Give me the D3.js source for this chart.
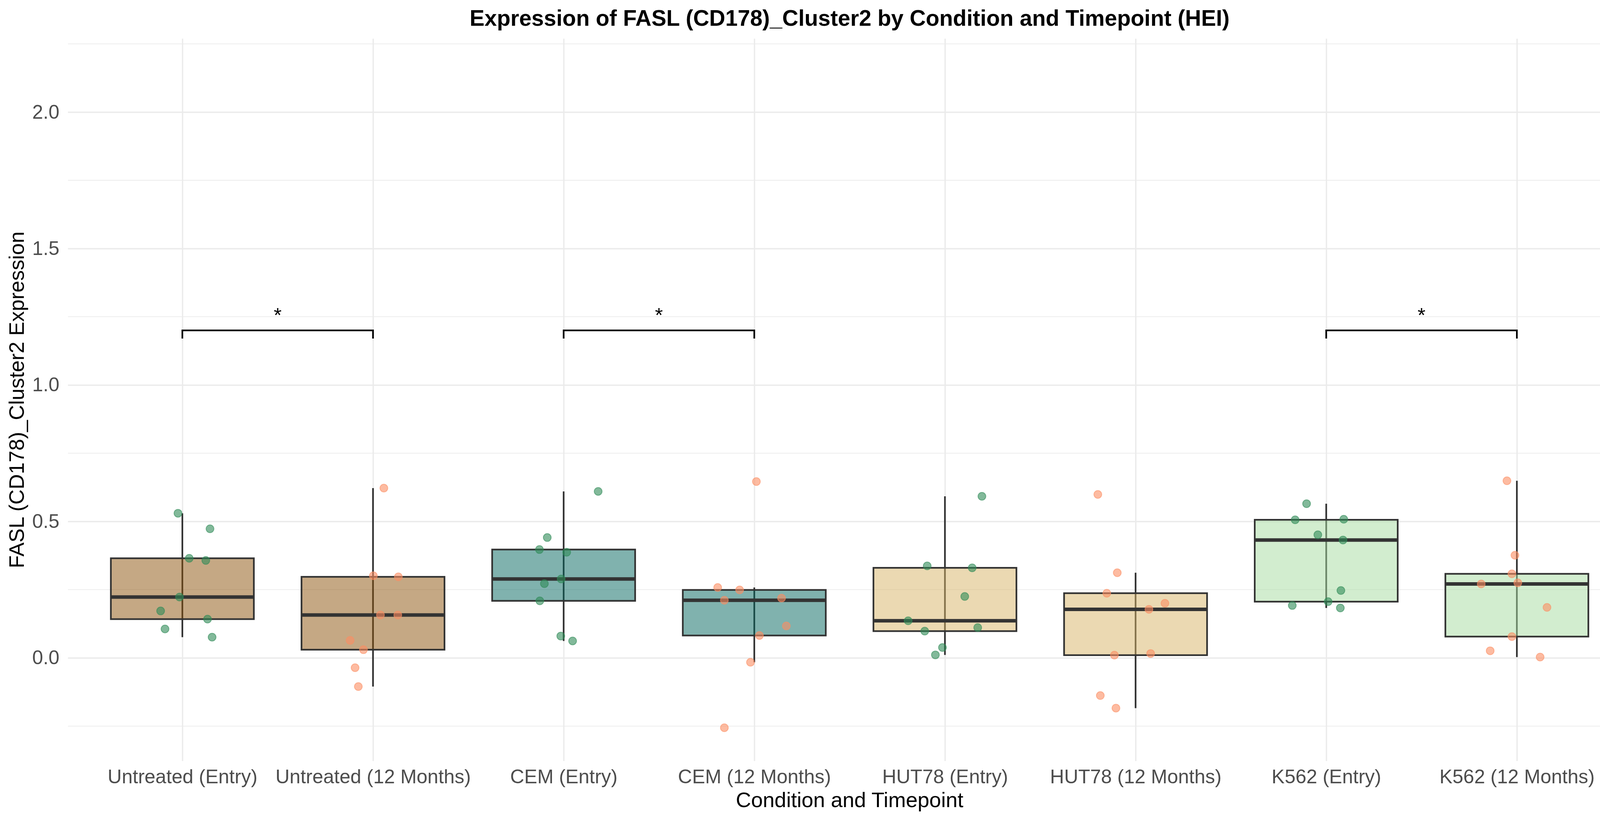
<!DOCTYPE html>
<html>
<head>
<meta charset="utf-8">
<script src="https://cdn.jsdelivr.net/npm/d3@7"></script>
<style>
body { margin: 0; background: #fff; }
</style>
</head>
<body>
<script>
// categories and groups
var categories = ["Untreated (Entry)", "Untreated (12 Months)", "CEM (Entry)", "CEM (12 Months)",
  "HUT78 (Entry)", "HUT78 (12 Months)", "K562 (Entry)", "K562 (12 Months)"];
var conditions = ["Untreated", "Untreated", "CEM", "CEM", "HUT78", "HUT78", "K562", "K562"];
var timepoints = ["Entry", "12 Months", "Entry", "12 Months", "Entry", "12 Months", "Entry", "12 Months"];

// expression values per group
var untreatedEntry = [0.530, 0.473, 0.365, 0.357, 0.223, 0.172, 0.142, 0.106, 0.076];
var untreated12 = [0.622, 0.301, 0.297, 0.157, 0.157, 0.064, 0.030, -0.036, -0.105];
var cemEntry = [0.610, 0.441, 0.397, 0.387, 0.289, 0.272, 0.209, 0.080, 0.062];
var cem12 = [0.646, 0.258, 0.249, 0.211, 0.219, 0.117, 0.082, -0.016, -0.256];
var hutEntry = [0.592, 0.337, 0.330, 0.225, 0.136, 0.098, 0.111, 0.038, 0.011];
var hut12 = [0.599, 0.312, 0.237, 0.200, 0.178, 0.010, 0.016, -0.138, -0.184];
var k562Entry = [0.565, 0.506, 0.508, 0.451, 0.432, 0.247, 0.206, 0.192, 0.183];
var k56212 = [0.649, 0.376, 0.308, 0.271, 0.275, 0.185, 0.078, 0.026, 0.003];

// horizontal jitter of each point, in category units
var untreatedEntryJit = [-0.023, 0.145, 0.036, 0.123, -0.015, -0.114, 0.132, -0.091, 0.156];
var untreated12Jit = [0.057, 0.002, 0.133, 0.039, 0.130, -0.120, -0.050, -0.094, -0.077];
var cemEntryJit = [0.181, -0.086, -0.127, 0.016, -0.013, -0.101, -0.125, -0.015, 0.047];
var cem12Jit = [0.011, -0.192, -0.077, -0.157, 0.143, 0.168, 0.027, -0.020, -0.157];
var hutEntryJit = [0.194, -0.093, 0.143, 0.104, -0.193, -0.106, 0.172, -0.013, -0.050];
var hut12Jit = [-0.198, -0.096, -0.151, 0.154, 0.070, -0.111, 0.079, -0.185, -0.103];
var k562EntryJit = [-0.103, -0.163, 0.092, -0.044, 0.088, 0.077, 0.010, -0.178, 0.074];
var k56212Jit = [-0.052, -0.010, -0.026, -0.187, 0.005, 0.158, -0.026, -0.140, 0.122];

// y axis ticks
var yTicks = [0, 0.5, 1.0, 1.5, 2.0];
var yMinorTicks = [-0.25, 0.25, 0.75, 1.25, 1.75, 2.25];

// significance brackets
var sigPairs = [[0, 1], [2, 3], [6, 7]];
var sigLabels = ["*", "*", "*"];
var sigLevel = 1.2;

var values = [untreatedEntry, untreated12, cemEntry, cem12, hutEntry, hut12, k562Entry, k56212];
var jitters = [untreatedEntryJit, untreated12Jit, cemEntryJit, cem12Jit, hutEntryJit, hut12Jit, k562EntryJit, k56212Jit];

// styles
var fillColor = { "Untreated": "#8C510A", "CEM": "#01665E", "HUT78": "#D8B365", "K562": "#A6DBA0" };
var pointColor = { "Entry": "#2E8B57", "12 Months": "#FC8D62" };
var font = "'Liberation Sans', Arial, sans-serif";

var width = 4200, height = 2100;
var panel = { left: 174, right: 4176, top: 99, bottom: 1949 };

var svg = d3.select("body").append("svg")
  .attr("width", width).attr("height", height)
  .style("font-family", font);

var x = d3.scalePoint().domain(categories).range([panel.left, panel.right]).padding(0.6);
var y = d3.scaleLinear().domain([-0.378, 2.269]).range([panel.bottom, panel.top]);
var step = x.step();
var boxW = step * 0.75;

// minor grid
svg.append("g").selectAll("line").data(yMinorTicks).enter().append("line")
  .attr("x1", panel.left).attr("x2", panel.right)
  .attr("y1", function(d) { return y(d); }).attr("y2", function(d) { return y(d); })
  .attr("stroke", "#EBEBEB").attr("stroke-width", 1.8);

// y axis with major grid
var yAxis = svg.append("g").attr("transform", "translate(" + panel.left + ",0)")
  .call(d3.axisLeft(y).tickValues(yTicks).tickFormat(d3.format(".1f"))
    .tickSizeInner(-(panel.right - panel.left)).tickSizeOuter(0).tickPadding(22));
yAxis.select(".domain").remove();
yAxis.selectAll(".tick line").attr("stroke", "#EBEBEB").attr("stroke-width", 3.5);
yAxis.selectAll(".tick text").attr("fill", "#4D4D4D").style("font-size", "50px").style("font-family", font);

// x axis with major grid
var xAxis = svg.append("g").attr("transform", "translate(0," + panel.bottom + ")")
  .call(d3.axisBottom(x).tickSizeInner(-(panel.bottom - panel.top)).tickSizeOuter(0).tickPadding(21));
xAxis.select(".domain").remove();
xAxis.selectAll(".tick line").attr("stroke", "#EBEBEB").attr("stroke-width", 3.5);
xAxis.selectAll(".tick text").attr("fill", "#4D4D4D").style("font-size", "50px").style("font-family", font);

// box statistics like ggplot (type 7 quantiles, 1.5 IQR whiskers)
var stats = values.map(function(v, i) {
  var s = v.slice().sort(d3.ascending);
  var q1 = d3.quantile(s, 0.25), med = d3.quantile(s, 0.5), q3 = d3.quantile(s, 0.75);
  var iqr = q3 - q1;
  var lo = d3.min(s.filter(function(d) { return d >= q1 - 1.5 * iqr; }));
  var hi = d3.max(s.filter(function(d) { return d <= q3 + 1.5 * iqr; }));
  return { cat: categories[i], cond: conditions[i], q1: q1, med: med, q3: q3, lo: lo, hi: hi };
});

var boxes = svg.append("g").selectAll("g").data(stats).enter().append("g");
boxes.append("line")
  .attr("x1", function(d) { return x(d.cat); }).attr("x2", function(d) { return x(d.cat); })
  .attr("y1", function(d) { return y(d.hi); }).attr("y2", function(d) { return y(d.lo); })
  .attr("stroke", "#333333").attr("stroke-width", 4.3);
boxes.append("rect")
  .attr("x", function(d) { return x(d.cat) - boxW / 2; })
  .attr("width", boxW)
  .attr("y", function(d) { return y(d.q3); })
  .attr("height", function(d) { return y(d.q1) - y(d.q3); })
  .attr("fill", function(d) { return fillColor[d.cond]; }).attr("fill-opacity", 0.5)
  .attr("stroke", "#333333").attr("stroke-width", 4.3);
boxes.append("line")
  .attr("x1", function(d) { return x(d.cat) - boxW / 2; }).attr("x2", function(d) { return x(d.cat) + boxW / 2; })
  .attr("y1", function(d) { return y(d.med); }).attr("y2", function(d) { return y(d.med); })
  .attr("stroke", "#333333").attr("stroke-width", 9);

// jittered points
var pts = [];
values.forEach(function(v, i) {
  v.forEach(function(val, j) {
    pts.push({ cat: categories[i], tp: timepoints[i], v: val, jit: jitters[i][j] });
  });
});
svg.append("g").selectAll("circle").data(pts).enter().append("circle")
  .attr("cx", function(d) { return x(d.cat) + d.jit * step; })
  .attr("cy", function(d) { return y(d.v); })
  .attr("r", 10)
  .attr("fill", function(d) { return pointColor[d.tp]; }).attr("fill-opacity", 0.6)
  .attr("stroke", function(d) { return pointColor[d.tp]; }).attr("stroke-opacity", 0.6)
  .attr("stroke-width", 2);

// significance brackets
var sig = svg.append("g").selectAll("g").data(sigPairs).enter().append("g");
sig.append("path")
  .attr("d", function(p) {
    var x1 = x(categories[p[0]]), x2 = x(categories[p[1]]);
    var yb = y(sigLevel), yt = y(sigLevel - 0.03);
    return "M" + x1 + "," + yt + "V" + yb + "H" + x2 + "V" + yt;
  })
  .attr("fill", "none").attr("stroke", "#000").attr("stroke-width", 4.3);
sig.append("text")
  .attr("x", function(p) { return (x(categories[p[0]]) + x(categories[p[1]])) / 2; })
  .attr("y", y(sigLevel) - 21)
  .attr("text-anchor", "middle").style("font-size", "52px")
  .text(function(p, i) { return sigLabels[i]; });

// titles
svg.append("text")
  .attr("x", (panel.left + panel.right) / 2).attr("y", 66)
  .attr("text-anchor", "middle").style("font-size", "57px").style("font-weight", "bold")
  .text("Expression of FASL (CD178)_Cluster2 by Condition and Timepoint (HEI)");
svg.append("text")
  .attr("x", (panel.left + panel.right) / 2).attr("y", 2067)
  .attr("text-anchor", "middle").style("font-size", "54px")
  .text("Condition and Timepoint");
svg.append("text")
  .attr("transform", "translate(61," + ((panel.top + panel.bottom) / 2) + ") rotate(-90)")
  .attr("text-anchor", "middle").style("font-size", "54px")
  .text("FASL (CD178)_Cluster2 Expression");
</script>
</body>
</html>
